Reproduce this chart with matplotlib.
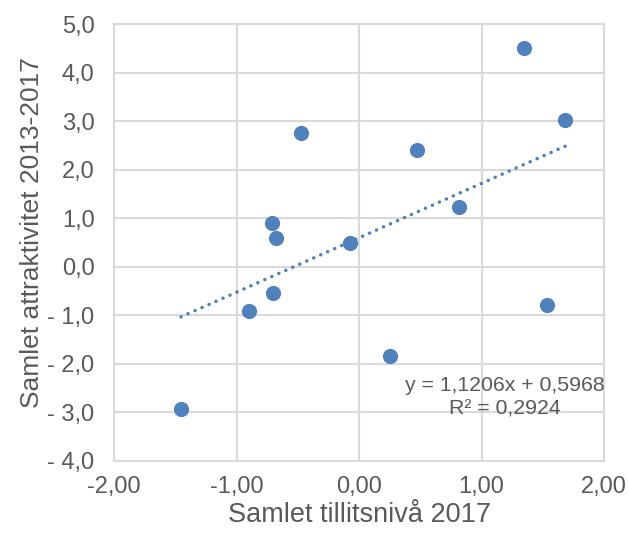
import matplotlib
matplotlib.use("Agg")
import matplotlib.pyplot as plt
from matplotlib.ticker import FixedLocator, FixedFormatter

# Data
x_vals = [1.344, 1.684, -0.471, 0.477, 0.815, -0.714, -0.679, -0.074, -0.700, -0.894, 1.535, 0.251, -1.453]
y_vals = [4.51, 3.02, 2.76, 2.40, 1.23, 0.90, 0.59, 0.48, -0.55, -0.92, -0.79, -1.83, -2.93]
slope = 1.1206
intercept = 0.5968
eq_text = "y = 1,1206x + 0,5968\nR² = 0,2924"
x_ticks = [-2, -1, 0, 1, 2]
x_tick_labels = ["-2,00", "-1,00", "0,00", "1,00", "2,00"]
y_ticks = [-4, -3, -2, -1, 0, 1, 2, 3, 4, 5]
y_tick_labels = ["- 4,0", "- 3,0", "- 2,0", "- 1,0", "0,0", "1,0", "2,0", "3,0", "4,0", "5,0"]
x_label = "Samlet tillitsnivå 2017"
y_label = "Samlet attraktivitet 2013-2017"

plt.rcParams['font.family'] = ['Liberation Sans', 'DejaVu Sans']
txt = '#595959'
grid = '#d9d9d9'
blue = '#4f81bd'

fig = plt.figure(figsize=(6.29, 5.36), dpi=100)
ax = fig.add_axes([114/629, 1-461/536, 490/629, 437/536])

ax.set_xlim(-2, 2)
ax.set_ylim(-4, 5)
ax.xaxis.set_major_locator(FixedLocator(x_ticks))
ax.xaxis.set_major_formatter(FixedFormatter(x_tick_labels))
ax.yaxis.set_major_locator(FixedLocator(y_ticks))
ax.yaxis.set_major_formatter(FixedFormatter(y_tick_labels))
ax.tick_params(length=0, labelsize=17, labelcolor=txt)
ax.tick_params(axis='y', pad=14)
ax.tick_params(axis='x', pad=11)
ax.grid(True, color=grid, linewidth=1.5, zorder=0)
for s in ax.spines.values():
    s.set_color(grid)
    s.set_linewidth(1.5)
ax.axhline(0, color='black', linewidth=1.4, zorder=1)
ax.axvline(0, color='black', linewidth=1.4, zorder=1)

ax.scatter(x_vals, y_vals, s=120, color=blue, zorder=3, linewidths=0)
xmin, xmax = min(x_vals), max(x_vals)
ax.plot([xmin, xmax], [slope*xmin+intercept, slope*xmax+intercept],
        color=blue, linewidth=2.5, linestyle=(0, (0.05, 2.15)),
        dash_capstyle='round', zorder=2)

ax.text(505/629, 1-397/536, eq_text, transform=fig.transFigure,
        ha='center', va='center', fontsize=15.3, color=txt, linespacing=1.3)

fig.text(360/629, 1-522/536, x_label, ha='center', va='baseline', fontsize=19.5, color=txt)
fig.text(32/629, 1-233/536, y_label, ha='center', va='center', rotation=90, fontsize=19, color=txt)

fig.savefig("out.png", dpi=100)
